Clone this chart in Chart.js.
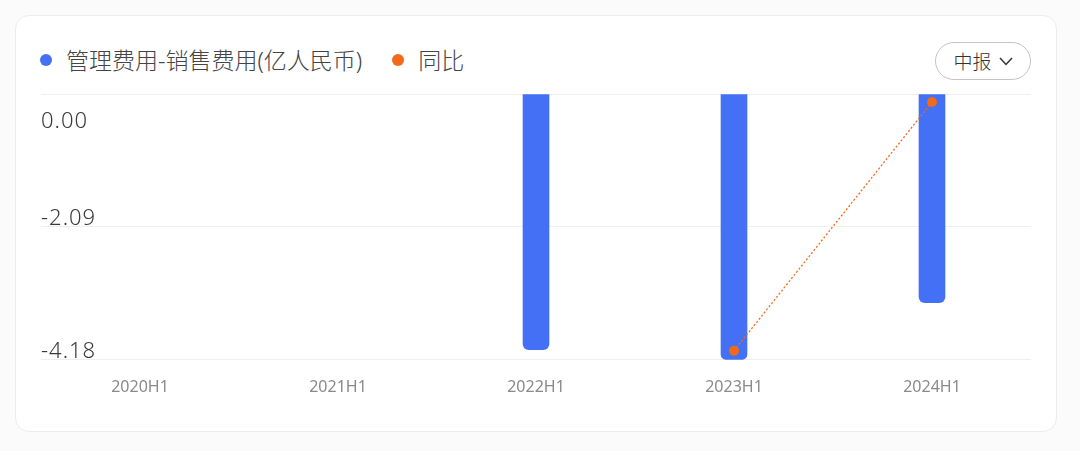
<!DOCTYPE html>
<html>
<head>
<meta charset="utf-8">
<script src="https://cdn.jsdelivr.net/npm/chart.js@4"></script>
<style>
    html, body { margin: 0; padding: 0; background: #fbfbfb; }
    body { width: 1080px; height: 451px; position: relative; overflow: hidden;
           font-family: "Noto Sans", "Noto Sans CJK SC", sans-serif; }
    .card { position: absolute; left: 15px; top: 15px; width: 1042px; height: 417px;
            background: #fff; border: 1px solid #ececec; border-radius: 14px; box-sizing: border-box; }
    .legend { position: absolute; left: 40px; top: 45px; font-size: 23px; color: #444;
              display: flex; align-items: center; line-height: 30px; font-weight: 300; }
    .legend .dot { width: 12px; height: 12px; border-radius: 50%; display: inline-block; margin-right: 14px; }
    .legend .item { display: flex; align-items: center; margin-right: 30px; }
    .btn { position: absolute; left: 935px; top: 42px; width: 96px; height: 38px; box-sizing: border-box;
           border: 1.5px solid #c4c4c4; border-radius: 19px; font-size: 19px; color: #333;
           display: flex; align-items: center; justify-content: center; font-weight: 300; }
    .btn svg { margin-left: 7px; }
    #wrap { position: absolute; left: 0; top: 0; width: 1080px; height: 451px; }
</style>
</head>
<body>
<div class="card"></div>
<div class="legend">
    <span class="item"><span class="dot" style="background:#4470f6"></span>管理费用-销售费用(亿人民币)</span>
    <span class="item"><span class="dot" style="background:#f2691a"></span>同比</span>
</div>
<div class="btn">中报<svg width="14" height="9" viewBox="0 0 14 9"><path d="M1 1 L7 7.5 L13 1" fill="none" stroke="#333" stroke-width="1.5"/></svg></div>
<div id="wrap"><canvas id="myChart"></canvas></div>

<script>
// data
const labels = ['2020H1', '2021H1', '2022H1', '2023H1', '2024H1'];
const expenseDiff = [null, null, -4.02, -4.18, -3.28];   // 亿人民币
const yoyPct = [null, null, null, -3.98, 21.5];          // 同比 %
const yTicks = [-4.18, -2.09, 0];

// draws the left y labels just above their gridline (top one sits below it)
const yLabelPlugin = {
    id: 'yLabels',
    afterDraw(chart) {
        const ctx = chart.ctx;
        const y = chart.scales.y;
        ctx.save();
        ctx.font = '300 22px "Noto Sans", "Noto Sans CJK SC", sans-serif';
        ctx.letterSpacing = '1px';
        ctx.fillStyle = '#3a3a3a';
        ctx.textAlign = 'left';
        yTicks.forEach(function (v) {
            let py = y.getPixelForValue(v);
            if (v === 0) {
                ctx.textBaseline = 'top';
                ctx.fillText(v.toFixed(2), chart.chartArea.left, py + 17);
            } else {
                ctx.textBaseline = 'bottom';
                ctx.fillText(v.toFixed(2), chart.chartArea.left, py + 3);
            }
        });
        ctx.restore();
    }
};

const ctx = document.getElementById('myChart').getContext('2d');
const myChart = new Chart(ctx, {
    data: {
        labels: labels,
        datasets: [
            {
                type: 'line',
                label: '同比',
                data: yoyPct,
                yAxisID: 'y1',
                borderColor: '#f2691a',
                backgroundColor: '#f2691a',
                borderWidth: 1.3,
                borderDash: [2, 2],
                pointRadius: 5,
                pointHoverRadius: 5,
                pointBorderWidth: 0,
                spanGaps: true,
                order: 0
            },
            {
                type: 'bar',
                label: '管理费用-销售费用(亿人民币)',
                data: expenseDiff,
                yAxisID: 'y',
                backgroundColor: '#4470f6',
                barThickness: 26,
                borderRadius: 6,
                borderSkipped: 'start',
                order: 1
            }
        ]
    },
    options: {
        responsive: true,
        maintainAspectRatio: false,
        animation: false,
        layout: { padding: { left: 41, right: 49, top: 94, bottom: 36 } },
        plugins: {
            legend: { display: false },
            tooltip: { enabled: false }
        },
        scales: {
            x: {
                grid: { display: false, drawTicks: false },
                border: { display: false },
                ticks: {
                    color: '#8a8a8a',
                    padding: 18,
                    font: { size: 16, family: '"Noto Sans", sans-serif' }
                }
            },
            y: {
                min: -4.18,
                max: 0,
                afterBuildTicks: function (axis) {
                    axis.ticks = yTicks.map(function (v) { return { value: v }; });
                },
                grid: { color: '#efefef', drawTicks: false, lineWidth: 1 },
                border: { display: false },
                ticks: { display: false }
            },
            y1: {
                display: false,
                min: -4.9,
                max: 22.32
            }
        }
    },
    plugins: [yLabelPlugin]
});
</script>
</body>
</html>
